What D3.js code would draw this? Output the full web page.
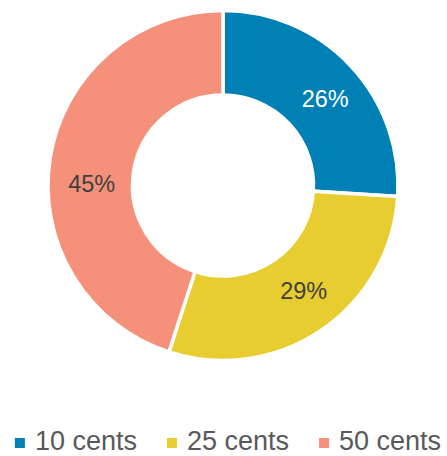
<!DOCTYPE html>
<html>
<head>
<meta charset="utf-8">
<script src="https://cdn.jsdelivr.net/npm/d3@7"></script>
<style>
  body { margin: 0; background: #fff; }
  svg { display: block; font-family: "Liberation Sans", Arial, sans-serif; }
</style>
</head>
<body>
<div id="chart"></div>
<script>
// data
var categories = ["10 cents", "25 cents", "50 cents"];
var values = [26, 29, 45];
var colors = ["#0080B4", "#E8CD30", "#F5917A"];
var labelColors = ["#ffffff", "#404040", "#404040"];

// chart specs
var width = 447;
var height = 456;
var cx = 223, cy = 185.5;
var outerR = 175, innerR = 90.5;
// small shifts of the data labels away from the exact centroid (as in the original)
var labelNudge = [[5.4, 3.8], [6.1, -4.6], [-0.2, 18.7]];

var svg = d3.select("#chart").append("svg")
    .attr("width", width)
    .attr("height", height);

var pie = d3.pie().sort(null).value(function(d) { return d; });
var arc = d3.arc().innerRadius(innerR).outerRadius(outerR);
var total = d3.sum(values);

var g = svg.append("g")
    .attr("transform", "translate(" + cx + "," + cy + ")");

// slices
g.selectAll(".slice").data(pie(values)).enter().append("path")
    .attr("class", "slice")
    .attr("d", arc)
    .attr("fill", function(d, i) { return colors[i]; })
    .attr("stroke", "#fff")
    .attr("stroke-width", 3.5)
    .attr("stroke-linejoin", "miter");

// labels
g.selectAll(".lbl").data(pie(values)).enter().append("text")
    .attr("class", "lbl")
    .attr("transform", function(d, i) {
        var c = arc.centroid(d);
        return "translate(" + (c[0] + labelNudge[i][0]) + "," + (c[1] + 8.3 + labelNudge[i][1]) + ")";
    })
    .attr("text-anchor", "middle")
    .style("font-size", "23.5px")
    .attr("fill", function(d, i) { return labelColors[i]; })
    .text(function(d) { return Math.round(d.value / total * 100) + "%"; });

// legend
var legend = svg.append("g");
var x = 0;
categories.forEach(function(name, i) {
    legend.append("rect")
        .attr("x", x)
        .attr("y", 438)
        .attr("width", 10)
        .attr("height", 10)
        .attr("fill", colors[i]);
    var t = legend.append("text")
        .attr("x", x + 20)
        .attr("y", 450)
        .style("font-size", "27px")
        .attr("fill", "#595959")
        .text(name);
    x += 20 + t.node().getComputedTextLength() + 30;
});
var legendW = x - 30;
legend.attr("transform", "translate(" + (228 - legendW / 2) + ",0)");
</script>
</body>
</html>
